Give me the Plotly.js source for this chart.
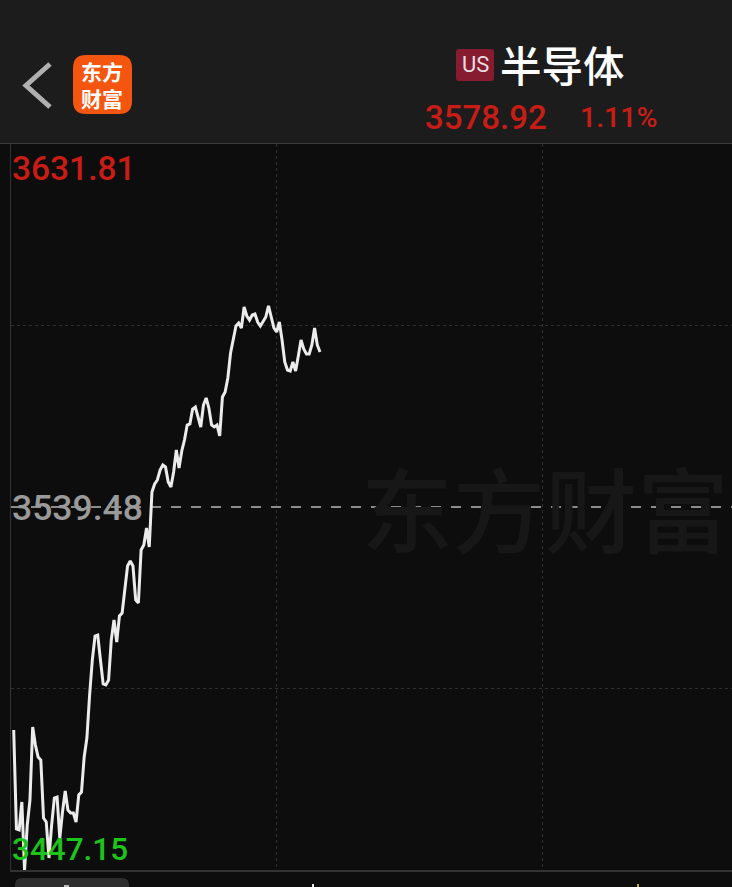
<!DOCTYPE html>
<html><head><meta charset="utf-8">
<script src="https://cdn.plot.ly/plotly-3.0.1.min.js"></script>
<style>html,body{margin:0;padding:0;background:#0d0d0d;overflow:hidden}</style>
</head><body><div id="chart" style="width:732px;height:887px"></div>
<script>
const minutes = [1,2,3,4,5,6,7,8,9,10,11,12,13,14,15,16,17,18,19,20,21,22,23,24,25,26,27,28,29,30,
31,32,33,34,35,36,37,38,39,40,41,42,43,44,45,46,47,48,49,50,51,52,53,54,55,56,57,58,59,60,
61,62,63,64,65,66,67,68,69,70,71,72,73,74,75,76,77,78,79,80,81,82,83,84,85,86,87,88,89,90,
91,92,93,94,95,96,97,98,99,100,101,102,103,104,105,106,107,108,109,110,111,112,113,114];
const prices = [3482.76,3457.58,3457.33,3464.45,3447.15,3458.60,3464.96,3483.52,3478.95,3475.89,
3475.13,3460.38,3459.36,3450.20,3458.60,3465.47,3465.72,3455.29,3461.90,3467.25,
3462.41,3461.65,3461.65,3459.36,3466.23,3466.99,3475.89,3480.73,3491.66,3500.57,
3506.67,3506.92,3500.57,3494.46,3494.21,3495.48,3505.65,3510.74,3505.14,3511.76,
3512.52,3518.37,3524.47,3525.75,3524.47,3515.83,3515.06,3528.54,3529.81,3534.14,
3529.31,3543.30,3545.33,3546.35,3548.89,3550.16,3549.66,3545.84,3544.57,3548.38,
3553.98,3549.40,3553.72,3556.52,3560.34,3560.59,3564.41,3564.92,3562.12,3559.83,
3565.42,3567.21,3564.66,3560.34,3559.83,3560.34,3557.54,3567.46,3568.73,3572.29,
3578.65,3581.96,3585.52,3586.28,3585.01,3590.35,3588.06,3587.04,3588.32,3588.57,
3586.54,3585.52,3586.54,3587.81,3590.61,3588.06,3585.01,3583.99,3586.54,3581.96,
3576.36,3574.33,3574.07,3576.36,3574.07,3577.89,3581.96,3579.67,3578.40,3578.40,
3580.69,3585.01,3580.69,3578.92];
const yHigh = 3631.81, yLow = 3447.15, prevClose = 3539.48;
const yGrid = [3585.65, 3493.31];
const xGrid = [98, 196];
const xMax = 266;
const labelHigh = "3631.81", labelPrev = "3539.48", labelLow = "3447.15";
const lastPrice = "3578.92", lastPct = "1.11%", stockName = "半导体", marketTag = "US";
const logoLines = ["东方", "财富"], watermark = "东方财富";

const L=11,T=144,W=721,H=726;
const px=x=>(x-L)/W, py=y=>(T+H-y)/H;
function rrect(x0,y0,x1,y1,r){
  return `M${px(x0+r)},${py(y0)} L${px(x1-r)},${py(y0)} Q${px(x1)},${py(y0)} ${px(x1)},${py(y0+r)} L${px(x1)},${py(y1-r)} Q${px(x1)},${py(y1)} ${px(x1-r)},${py(y1)} L${px(x0+r)},${py(y1)} Q${px(x0)},${py(y1)} ${px(x0)},${py(y1-r)} L${px(x0)},${py(y0+r)} Q${px(x0)},${py(y0)} ${px(x0+r)},${py(y0)} Z`;
}
function box(x0,y0,x1,y1,c,layer){return {type:'rect',xref:'paper',yref:'paper',x0:px(x0),x1:px(x1),y0:py(y1),y1:py(y0),fillcolor:c,line:{width:0},layer:layer||'above'};}
function txt(t,x,y,size,color,extra){return Object.assign({text:t,xref:'paper',yref:'paper',x:px(x),y:py(y),xanchor:'left',yanchor:'middle',showarrow:false,borderpad:0,
  font:{family:'Roboto, sans-serif',size:size,color:color,weight:500}},extra||{});}
const cjk='"Noto Sans CJK SC", sans-serif';

const shapes=[
  box(0,0,732,143,'#1c1c1c','below'),
  box(0,143,732,144,'#3a3a3a'),
  {type:'path',xref:'paper',yref:'paper',path:`M${px(50)},${py(64)} L${px(26)},${py(85.5)} L${px(50)},${py(107)}`,line:{color:'#b0b0b0',width:5},layer:'above'},
  {type:'path',xref:'paper',yref:'paper',path:rrect(73,55,132,114,13),fillcolor:'#f5560f',line:{width:0},layer:'above'},
  {type:'path',xref:'paper',yref:'paper',path:rrect(456,49,494,81,3),fillcolor:'#871c30',line:{width:0},layer:'above'},
  {type:'path',xref:'paper',yref:'paper',path:rrect(15,878,129,900,7),fillcolor:'#2d2d2d',line:{width:0},layer:'above'},
  box(64,885,69,887,'#bbbbbb'),
  box(312,884,314,887,'#e8e8e8'),
  box(637,884,639,887,'#b8a93a')
];
const annotations=[
  txt(watermark,360,505,92,'#171717',{font:{family:cjk,size:92,color:'#171717',weight:500}}),
  txt(labelHigh,11,168,33.5,'#c81c16'),
  txt(labelPrev,11,508,35.5,'#9a9a9a'),
  txt(labelLow,11,849,31.5,'#1cc41c'),
  txt(lastPrice,424,117,33,'#c81c16'),
  txt(lastPct,579,117,28.5,'#c81c16'),
  txt(marketTag,461,65,22,'#e6dfe0',{font:{family:'Roboto, sans-serif',size:22,color:'#e6dfe0',weight:400}}),
  txt(stockName,499,64,41.5,'#ffffff',{font:{family:cjk,size:41.5,color:'#ffffff',weight:500}}),
  txt(logoLines.join('<br>'),80,84.5,21,'#ffffff',{align:'left',font:{family:cjk,size:21,color:'#ffffff',weight:700}})
];
const traces=[
  {x:[0,xMax],y:[prevClose,prevClose],mode:'lines',line:{color:'#8c8c8c',width:2,dash:'10px,10px'},hoverinfo:'skip'},
  {x:minutes,y:prices,mode:'lines',line:{color:'#ececec',width:3,shape:'linear'},hoverinfo:'skip'}
];
Plotly.newPlot('chart',traces,{
  width:732,height:887,showlegend:false,
  margin:{l:L,r:0,t:T,b:887-T-H,pad:0},
  paper_bgcolor:'#0d0d0d',plot_bgcolor:'#0d0d0d',
  xaxis:{range:[0,xMax],tickvals:xGrid,showticklabels:false,ticks:'',showgrid:true,griddash:'dot',gridcolor:'#303030',gridwidth:1,zeroline:false,showline:true,linecolor:'#333333',linewidth:2,fixedrange:true},
  yaxis:{range:[yLow,yHigh],tickvals:yGrid,showticklabels:false,ticks:'',showgrid:true,griddash:'dot',gridcolor:'#303030',gridwidth:1,zeroline:false,showline:true,linecolor:'#333333',linewidth:1,fixedrange:true},
  shapes,annotations
},{displayModeBar:false,staticPlot:true});
</script></body></html>
